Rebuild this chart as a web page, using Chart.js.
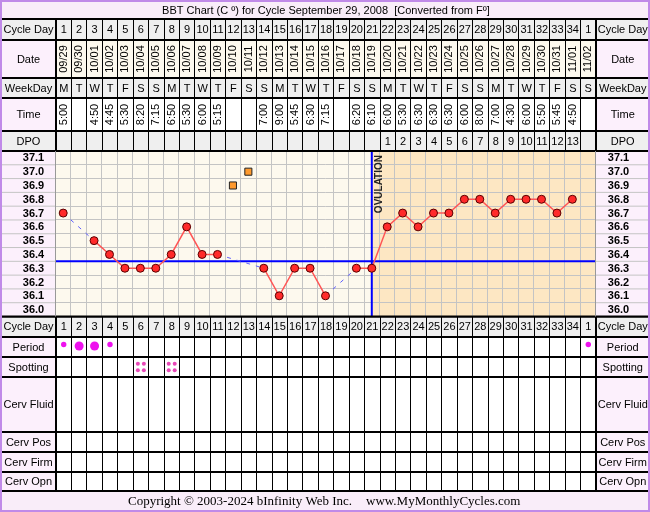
<!DOCTYPE html>
<html>
<head>
<meta charset="utf-8">
<title>BBT Chart</title>
<script src="https://cdn.jsdelivr.net/npm/chart.js@4.4.1/dist/chart.umd.min.js"></script>
<style>
  html, body { margin: 0; padding: 0; background: #fff; }
  canvas { display: block; }
</style>
</head>
<body>
<canvas id="bbtChart" width="650" height="512"></canvas>
<script>
// Cycle data
const cycleDays = [1, 2, 3, 4, 5, 6, 7, 8, 9, 10, 11, 12, 13, 14, 15, 16, 17, 18, 19, 20,
  21, 22, 23, 24, 25, 26, 27, 28, 29, 30, 31, 32, 33, 34, 1];
const dates = ['09/29', '09/30', '10/01', '10/02', '10/03', '10/04', '10/05', '10/06', '10/07', '10/08',
  '10/09', '10/10', '10/11', '10/12', '10/13', '10/14', '10/15', '10/16', '10/17', '10/18',
  '10/19', '10/20', '10/21', '10/22', '10/23', '10/24', '10/25', '10/26', '10/27', '10/28',
  '10/29', '10/30', '10/31', '11/01', '11/02'];
const weekDays = ['M', 'T', 'W', 'T', 'F', 'S', 'S', 'M', 'T', 'W', 'T', 'F', 'S', 'S',
  'M', 'T', 'W', 'T', 'F', 'S', 'S', 'M', 'T', 'W', 'T', 'F', 'S', 'S',
  'M', 'T', 'W', 'T', 'F', 'S', 'S'];
const times = ['5:00', '', '4:50', '4:45', '5:30', '8:20', '7:15', '6:50', '5:30', '6:00',
  '5:15', '', '', '7:00', '9:00', '5:45', '6:30', '7:15', '', '6:20',
  '6:10', '6:00', '5:30', '6:30', '6:30', '6:30', '6:00', '8:00', '7:00', '4:30',
  '6:00', '5:50', '5:45', '4:50', ''];
const dpo = ['', '', '', '', '', '', '', '', '', '', '', '', '', '', '', '', '', '', '', '',
  '', 1, 2, 3, 4, 5, 6, 7, 8, 9, 10, 11, 12, 13, ''];
const temps = [36.7, null, 36.5, 36.4, 36.3, 36.3, 36.3, 36.4, 36.6, 36.4,
  36.4, null, null, 36.3, 36.1, 36.3, 36.3, 36.1, null, 36.3,
  36.3, 36.6, 36.7, 36.6, 36.7, 36.7, 36.8, 36.8, 36.7, 36.8,
  36.8, 36.8, 36.7, 36.8, null];
const excludedTemps = [null, null, null, null, null, null, null, null, null, null,
  null, 36.9, 37.0, null, null, null, null, null, null, null,
  null, null, null, null, null, null, null, null, null, null,
  null, null, null, null, null];
// 0 = none, 1 = light, 2 = heavy
const periodFlow = [1, 2, 2, 1, 0, 0, 0, 0, 0, 0, 0, 0, 0, 0, 0, 0, 0, 0, 0, 0,
  0, 0, 0, 0, 0, 0, 0, 0, 0, 0, 0, 0, 0, 0, 1];
const spotting = [0, 0, 0, 0, 0, 1, 0, 1, 0, 0, 0, 0, 0, 0, 0, 0, 0, 0, 0, 0,
  0, 0, 0, 0, 0, 0, 0, 0, 0, 0, 0, 0, 0, 0, 0];
const tempLabels = [37.1, 37.0, 36.9, 36.8, 36.7, 36.6, 36.5, 36.4, 36.3, 36.2, 36.1, 36.0];
const coverLine = 36.35;
const ovulationIndex = 20; // cycle day 21

const title = 'BBT Chart (C \u00BA) for Cycle September 29, 2008  [Converted from F\u00BA]';

const FONT = '"Liberation Sans", Arial, sans-serif';
const W = 650, H = 512;
const LEFT_COL = [2, 55];
const RIGHT_COL = [595.5, 648];
const gridVals = tempLabels.map(t => t - 0.05).concat([Math.max(...tempLabels) + 0.05]);

function fillRect(ctx, x0, y0, x1, y1, color) {
  ctx.fillStyle = color;
  ctx.fillRect(x0, y0, x1 - x0, y1 - y0);
}

function hLine(ctx, x0, x1, yy, color, w) {
  ctx.strokeStyle = color;
  ctx.lineWidth = w;
  ctx.beginPath();
  ctx.moveTo(x0, yy);
  ctx.lineTo(x1, yy);
  ctx.stroke();
}

function vLine(ctx, xx, y0, y1, color, w) {
  ctx.strokeStyle = color;
  ctx.lineWidth = w;
  ctx.beginPath();
  ctx.moveTo(xx, y0);
  ctx.lineTo(xx, y1);
  ctx.stroke();
}

function drawRow(chart, row) {
  const { ctx, chartArea: a, scales: { x } } = chart;
  const cw = (a.right - a.left) / cycleDays.length;
  const cy = (row.top + row.bottom) / 2;
  fillRect(ctx, LEFT_COL[0], row.top, LEFT_COL[1], row.bottom, row.labelBg);
  fillRect(ctx, RIGHT_COL[0], row.top, RIGHT_COL[1], row.bottom, row.labelBg);
  fillRect(ctx, a.left, row.top, a.right, row.bottom, row.bg);

  ctx.fillStyle = '#000';
  ctx.font = '11px ' + FONT;
  ctx.textAlign = 'center';
  ctx.textBaseline = 'middle';
  ctx.fillText(row.label, (LEFT_COL[0] + LEFT_COL[1]) / 2, cy + 0.5);
  ctx.fillText(row.label, (RIGHT_COL[0] + RIGHT_COL[1]) / 2 + 1, cy + 0.5);

  for (let i = 0; i < cycleDays.length; i++) {
    const cx = x.getPixelForValue(i);
    const v = row.values ? row.values[i] : '';
    if (v !== '' && v !== undefined) {
      if (row.rotate) {
        ctx.save();
        ctx.translate(cx + 0.5, cy);
        ctx.rotate(-Math.PI / 2);
        ctx.fillText(String(v), 0, 0);
        ctx.restore();
      } else {
        ctx.fillText(String(v), cx + 0.5, cy + 0.5);
      }
    }
    if (row.draw) row.draw(ctx, i, cx, row);
  }
  for (let i = 0; i <= cycleDays.length; i++) {
    vLine(ctx, Math.round(a.left + i * cw) + 0.5, row.top, row.bottom, '#000', 1);
  }
  vLine(ctx, LEFT_COL[1] + 0.5, row.top, row.bottom, '#000', 1);
  vLine(ctx, RIGHT_COL[0], row.top, row.bottom, '#000', 1);
}

function drawPeriod(ctx, i, cx, row) {
  const f = periodFlow[i];
  if (!f) return;
  ctx.fillStyle = '#ee11ee';
  ctx.beginPath();
  ctx.arc(cx + 0.5, row.top + (f === 2 ? 9 : 7.5), f === 2 ? 4.5 : 2.7, 0, Math.PI * 2);
  ctx.fill();
  ctx.fillStyle = '#000';
}

function drawSpotting(ctx, i, cx, row) {
  if (!spotting[i]) return;
  ctx.fillStyle = '#e848b8';
  const cy = (row.top + row.bottom) / 2;
  [[-3, -3.2], [3, -3.2], [-3, 3.2], [3, 3.2]].forEach(([dx, dy]) => {
    ctx.beginPath();
    ctx.arc(cx + 0.5 + dx, cy + dy, 2, 0, Math.PI * 2);
    ctx.fill();
  });
  ctx.fillStyle = '#000';
}

const tablePlugin = {
  id: 'bbtTable',
  beforeDraw(chart) {
    const { ctx, chartArea: a, scales: { x, y } } = chart;
    ctx.save();
    fillRect(ctx, 0, 0, W, H, '#fff');

    // title
    fillRect(ctx, 0, 0, W, 19, '#f9edf9');
    ctx.fillStyle = '#000';
    ctx.font = '11px ' + FONT;
    ctx.textAlign = 'center';
    ctx.textBaseline = 'middle';
    ctx.fillText(title, 326, 10.5);

    const headerRows = [
      { label: 'Cycle Day', top: 19, bottom: 40, bg: '#efefef', labelBg: '#efefef', values: cycleDays },
      { label: 'Date', top: 40, bottom: 78, bg: '#fdf9ee', labelBg: '#fcf0fc', values: dates, rotate: true },
      { label: 'WeekDay', top: 78, bottom: 98, bg: '#efefef', labelBg: '#efefef', values: weekDays },
      { label: 'Time', top: 98, bottom: 131, bg: '#ffffff', labelBg: '#fcf0fc', values: times, rotate: true },
      { label: 'DPO', top: 131, bottom: a.top, bg: '#efefef', labelBg: '#efefef', values: dpo }
    ];
    const footerRows = [
      { label: 'Cycle Day', top: a.bottom, bottom: 337, bg: '#efefef', labelBg: '#efefef', values: cycleDays },
      { label: 'Period', top: 337, bottom: 357, bg: '#ffffff', labelBg: '#fcf0fc', draw: drawPeriod },
      { label: 'Spotting', top: 357, bottom: 377, bg: '#ffffff', labelBg: '#fcf0fc', draw: drawSpotting },
      { label: 'Cerv Fluid', top: 377, bottom: 432, bg: '#ffffff', labelBg: '#fcf0fc' },
      { label: 'Cerv Pos', top: 432, bottom: 452, bg: '#ffffff', labelBg: '#fcf0fc' },
      { label: 'Cerv Firm', top: 452, bottom: 472, bg: '#ffffff', labelBg: '#fcf0fc' },
      { label: 'Cerv Opn', top: 472, bottom: 491, bg: '#ffffff', labelBg: '#fcf0fc' }
    ];
    headerRows.concat(footerRows).forEach(r => drawRow(chart, r));
    headerRows.concat(footerRows).forEach(r => hLine(ctx, 0, W, r.top, '#000', 2));
    hLine(ctx, 0, W, 491, '#000', 2);

    // chart backgrounds
    const ovX = x.getPixelForValue(ovulationIndex);
    fillRect(ctx, a.left, a.top, ovX, a.bottom, '#fdf9ee');
    fillRect(ctx, ovX, a.top, a.right, a.bottom, '#fde7c3');
    fillRect(ctx, LEFT_COL[0], a.top, LEFT_COL[1], a.bottom, '#fcf0fc');
    fillRect(ctx, RIGHT_COL[0], a.top, RIGHT_COL[1], a.bottom, '#fcf0fc');
    gridVals.forEach(v => {
      const py = y.getPixelForValue(v);
      hLine(ctx, LEFT_COL[0], LEFT_COL[1], py, '#c4c4c4', 1);
      hLine(ctx, RIGHT_COL[0], RIGHT_COL[1], py, '#c4c4c4', 1);
    });
    ctx.font = 'bold 11px ' + FONT;
    ctx.fillStyle = '#000';
    tempLabels.forEach(t => {
      const py = y.getPixelForValue(t);
      ctx.fillText(t.toFixed(1), 33.5, py + 0.5);
      ctx.fillText(t.toFixed(1), 618.5, py + 0.5);
    });

    // footer
    fillRect(ctx, 0, 492, W, H, '#f9edf9');
    ctx.font = '13px "Liberation Serif", "Times New Roman", serif';
    ctx.textAlign = 'left';
    ctx.fillStyle = '#000';
    ctx.fillText('Copyright \u00A9 2003-2024 bInfinity Web Inc.', 128, 502);
    ctx.fillText('www.MyMonthlyCycles.com', 366, 502);
    ctx.restore();
  },
  beforeDatasetsDraw(chart) {
    const { ctx, chartArea: a, scales: { x, y } } = chart;
    ctx.save();
    const cy = y.getPixelForValue(coverLine);
    hLine(ctx, a.left, a.right, cy, '#0000ff', 2);
    const ovX = x.getPixelForValue(ovulationIndex);
    vLine(ctx, ovX, a.top, a.bottom, '#0000ff', 2);
    ctx.translate(ovX + 7.5, a.top + 4);
    ctx.rotate(-Math.PI / 2);
    ctx.font = 'bold 10px ' + FONT;
    ctx.fillStyle = '#222';
    ctx.textAlign = 'right';
    ctx.textBaseline = 'middle';
    ctx.fillText('OVULATION', 0, 0);
    ctx.restore();
  },
  afterDraw(chart) {
    const { ctx, chartArea: a } = chart;
    ctx.save();
    hLine(ctx, 0, W, a.top, '#000', 2);
    hLine(ctx, 0, W, a.bottom, '#000', 2);
    vLine(ctx, LEFT_COL[1] + 0.5, a.top, a.bottom, '#999', 1);
    vLine(ctx, RIGHT_COL[0], a.top, a.bottom, '#999', 1);
    ctx.strokeStyle = '#c08ae8';
    ctx.lineWidth = 2;
    ctx.strokeRect(1, 1, W - 2, H - 2);
    ctx.restore();
  }
};

// a segment spans a missing reading when the point just before p1 has no value
const isGap = ctx => temps[ctx.p1DataIndex - 1] === null;

new Chart(document.getElementById('bbtChart'), {
  type: 'line',
  data: {
    labels: dates,
    datasets: [{
      label: 'Temperature',
      data: temps,
      spanGaps: true,
      borderColor: '#ff5555',
      borderWidth: 1.5,
      pointRadius: 4,
      pointBackgroundColor: '#ff2a2a',
      pointBorderColor: '#5a0000',
      pointBorderWidth: 1,
      segment: {
        borderColor: ctx => isGap(ctx) ? '#6060ff' : '#ff5555',
        borderDash: ctx => isGap(ctx) ? [4, 6] : [],
        borderWidth: ctx => isGap(ctx) ? 1 : 1.5
      }
    }, {
      label: 'Excluded',
      data: excludedTemps,
      showLine: false,
      pointStyle: 'rect',
      pointRadius: 5,
      pointBackgroundColor: '#ff9a2e',
      pointBorderColor: '#222',
      pointBorderWidth: 1
    }]
  },
  options: {
    responsive: false,
    animation: false,
    events: [],
    layout: { padding: { left: 55.5, right: 54.5, top: 151, bottom: 195.5 } },
    plugins: { legend: { display: false }, tooltip: { enabled: false } },
    scales: {
      x: {
        offset: true,
        grid: { offset: true, color: '#c4c4c4', drawTicks: false },
        ticks: { display: false },
        border: { display: false }
      },
      y: {
        min: Math.min(...gridVals),
        max: Math.max(...gridVals),
        afterBuildTicks: axis => { axis.ticks = gridVals.map(v => ({ value: v })); },
        grid: { color: '#c4c4c4', drawTicks: false },
        ticks: { display: false },
        border: { display: false }
      }
    }
  },
  plugins: [tablePlugin]
});
</script>
</body>
</html>
